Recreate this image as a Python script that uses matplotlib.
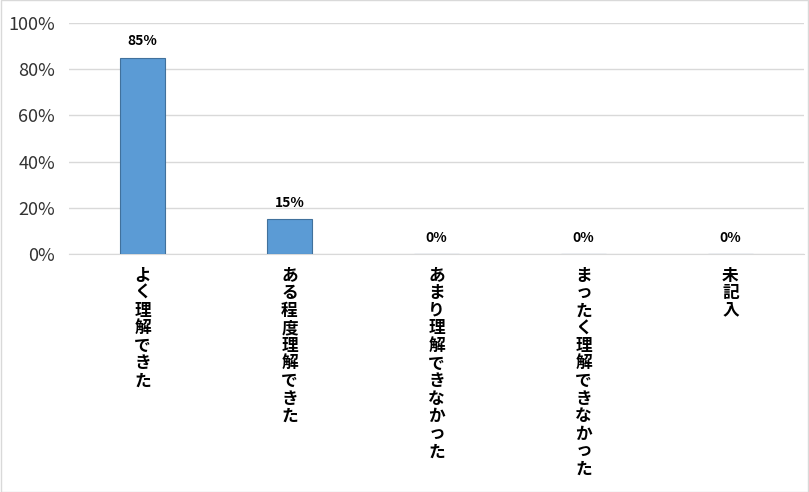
import numpy as np
import matplotlib.pyplot as plt
from matplotlib.ticker import FuncFormatter

plt.rcParams['font.family'] = ['Noto Sans CJK JP', 'DejaVu Sans']

categories = ['よく理解できた', 'ある程度理解できた', 'あまり理解できなかった',
              'まったく理解できなかった', '未記入']
values = [85, 15, 0, 0, 0]

fig = plt.figure(figsize=(8.09, 4.92), dpi=100)
ax = fig.add_axes([69 / 809, 1 - 254 / 492, 735 / 809, 231 / 492])

x = np.arange(len(categories))
bars = ax.bar(x, values, width=0.31, color='#5B9BD5', edgecolor='#41719C', linewidth=0.8, zorder=3)

for xi, v in zip(x, values):
    ax.text(xi, v + 4, f'{v}%', ha='center', va='bottom', fontsize=10, fontweight='bold')

ax.set_xlim(-0.5, len(categories) - 0.5)
ax.set_ylim(0, 100)
ax.set_yticks(range(0, 101, 20))
ax.yaxis.set_major_formatter(FuncFormatter(lambda v, p: f'{int(v)}%'))
ax.grid(axis='y', color='#D9D9D9', linewidth=1, zorder=0)
for s in ['top', 'right', 'left']:
    ax.spines[s].set_visible(False)
ax.spines['bottom'].set_color('#D9D9D9')
ax.tick_params(axis='y', length=0, labelsize=13, pad=10, colors='#333333')
ax.tick_params(axis='x', length=0, pad=9)
ax.set_xticks(x)
# 縦書き: 一文字ずつ改行
ax.set_xticklabels(['\n'.join(c) for c in categories], fontsize=12, fontweight='bold',
                   va='top', ha='center', linespacing=0.97)

fig.patches.append(plt.Rectangle((0.001, 0.001), 0.998, 0.998, transform=fig.transFigure,
                                 fill=False, edgecolor='#D9D9D9', linewidth=1))

fig.savefig('out.png', dpi=100)
